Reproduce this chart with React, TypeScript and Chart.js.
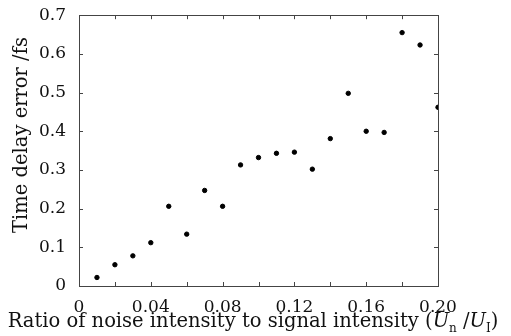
import React, { useEffect, useRef } from "react";
import { Chart, registerables } from "chart.js";

Chart.register(...registerables);

const ratios = [0.01, 0.02, 0.03, 0.04, 0.05, 0.06, 0.07, 0.08, 0.09, 0.1, 0.11, 0.12, 0.13, 0.14, 0.15, 0.16, 0.17, 0.18, 0.19, 0.2];
const delayErrors = [0.022, 0.055, 0.078, 0.112, 0.206, 0.134, 0.247, 0.206, 0.313, 0.332, 0.343, 0.346, 0.302, 0.381, 0.498, 0.4, 0.397, 0.655, 0.623, 0.462];
const xMinorTicks = [0.02, 0.04, 0.06, 0.08, 0.1, 0.12, 0.14, 0.16, 0.18];
const yMinorTicks = [0.1, 0.2, 0.3, 0.4, 0.5, 0.6];
const yTitle = "Time delay error /fs";
const xTitleMain = "Ratio of noise intensity to signal intensity (";

const FONT = "'DejaVu Serif', 'Liberation Serif', serif";
const FRAME = "#444";
const TS = 19.5;

const framePlugin = {
  id: "frameAndTitles",
  afterDatasetsDraw(chart: any) {
    const { ctx, chartArea: a, scales } = chart;
    const xs = scales.x;
    const ys = scales.y;
    ctx.save();
    ctx.strokeStyle = FRAME;
    ctx.lineWidth = 1;
    ctx.strokeRect(Math.round(a.left) + 0.5, Math.round(a.top) + 0.5, Math.round(a.right - a.left), Math.round(a.bottom - a.top));
    const tl = 4;
    ctx.beginPath();
    for (const v of xMinorTicks) {
      const px = Math.round(xs.getPixelForValue(v)) + 0.5;
      ctx.moveTo(px, a.bottom);
      ctx.lineTo(px, a.bottom - tl);
      ctx.moveTo(px, a.top);
      ctx.lineTo(px, a.top + tl);
    }
    for (const v of yMinorTicks) {
      const py = Math.round(ys.getPixelForValue(v)) + 0.5;
      ctx.moveTo(a.left, py);
      ctx.lineTo(a.left + tl, py);
      ctx.moveTo(a.right, py);
      ctx.lineTo(a.right - tl, py);
    }
    ctx.stroke();

    // y title
    ctx.fillStyle = "#111";
    ctx.font = `${TS}px ${FONT}`;
    ctx.textAlign = "center";
    ctx.textBaseline = "middle";
    ctx.save();
    ctx.translate(22, 135);
    ctx.rotate(-Math.PI / 2);
    ctx.fillText(yTitle, 0, 0);
    ctx.restore();

    // x title with subscripts
    const base = 327;
    ctx.textAlign = "left";
    ctx.textBaseline = "alphabetic";
    const parts: [string, string, number][] = [
      [xTitleMain, `${TS}px ${FONT}`, 0],
      ["U", `italic ${TS}px ${FONT}`, 0],
      ["n", `12px ${FONT}`, 5],
      [" /", `${TS}px ${FONT}`, 0],
      ["U", `italic ${TS}px ${FONT}`, 0],
      ["I", `12px ${FONT}`, 5],
      [")", `${TS}px ${FONT}`, 0],
    ];
    let total = 0;
    for (const [t, f] of parts) {
      ctx.font = f;
      total += ctx.measureText(t).width;
    }
    let x = 253 - total / 2;
    for (const [t, f, dy] of parts) {
      ctx.font = f;
      ctx.fillText(t, x, base + dy);
      x += ctx.measureText(t).width;
    }
    ctx.restore();
  },
};

export default function App() {
  const ref = useRef<HTMLCanvasElement | null>(null);
  useEffect(() => {
    document.body.style.margin = "0";
    const canvas = ref.current;
    if (!canvas) return;
    const chart = new Chart(canvas, {
      type: "scatter",
      data: {
        datasets: [
          {
            data: ratios.map((r, i) => ({ x: r, y: delayErrors[i] })),
            backgroundColor: "#000",
            borderColor: "#000",
            pointRadius: 2.2,
            pointHoverRadius: 2.2,
          },
        ],
      },
      options: {
        animation: false,
        responsive: false,
        events: [],
        layout: { padding: { top: 11, right: 73, left: 0, bottom: 0 } },
        plugins: { legend: { display: false }, tooltip: { enabled: false } },
        scales: {
          x: {
            type: "linear",
            min: 0,
            max: 0.2,
            border: { display: false },
            grid: { display: false },
            ticks: {
              stepSize: 0.04,
              color: "#111",
              padding: 3,
              font: { family: FONT, size: 17 },
              callback: (v: any) => (v === 0 ? "0" : Number(v).toFixed(2)),
            },
            afterFit: (s: any) => {
              s.height = 50;
            },
          },
          y: {
            type: "linear",
            min: 0,
            max: 0.7,
            border: { display: false },
            grid: { display: false },
            ticks: {
              stepSize: 0.1,
              color: "#111",
              padding: 5,
              font: { family: FONT, size: 17 },
              callback: (v: any) => (v === 0 ? "0" : Number(v).toFixed(1)),
            },
            afterFit: (s: any) => {
              s.width = 79;
            },
          },
        },
      },
      plugins: [framePlugin],
    });
    return () => chart.destroy();
  }, []);
  return <canvas ref={ref} width={511} height={336} style={{ display: "block" }} />;
}
